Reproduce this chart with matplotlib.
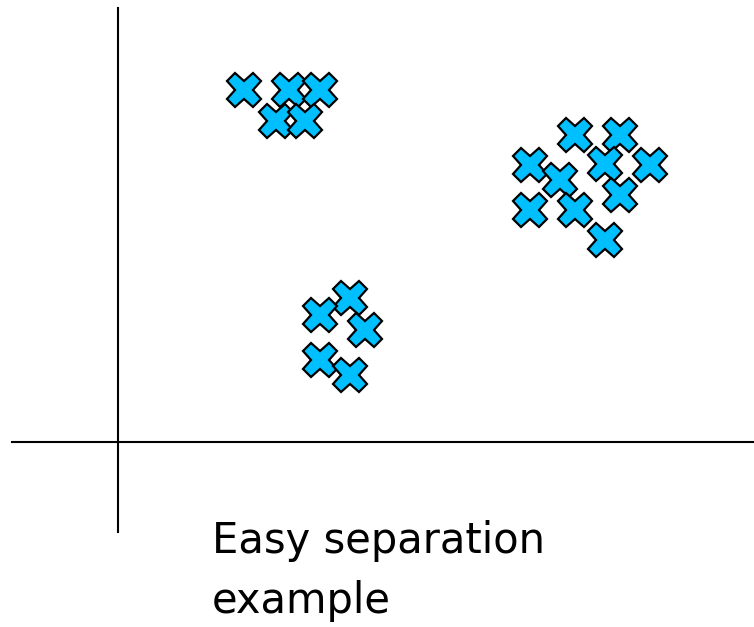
import matplotlib.pyplot as plt

# marker centres (pixel-like units, y grows downward)
cluster_a_x = [244, 289, 320, 276, 305]
cluster_a_y = [90, 90, 90, 121, 121]
cluster_b_x = [575, 620, 530, 605, 650, 560, 620, 530, 575, 605]
cluster_b_y = [135, 135, 165, 164, 165, 180, 195, 210, 210, 240]
cluster_c_x = [350, 320, 365, 320, 350]
cluster_c_y = [298, 315, 330, 360, 375]

fig = plt.figure(figsize=(7.54, 6.27), dpi=100)
ax = fig.add_axes([0, 0, 1, 1])
ax.set_xlim(0, 754)
ax.set_ylim(627, 0)
ax.axis("off")

# hand-drawn style axes
ax.plot([118, 118], [8, 532], color="black", lw=1.5)
ax.plot([12, 754], [442, 442], color="black", lw=1.5)

for xs, ys in [(cluster_a_x, cluster_a_y), (cluster_b_x, cluster_b_y), (cluster_c_x, cluster_c_y)]:
    for x, y in zip(xs, ys):
        ax.plot(x, y, marker="X", markersize=25, color="#00BFFF",
                markeredgecolor="black", markeredgewidth=1.6, linestyle="none")

ax.text(212, 520, "Easy separation\nexample", fontsize=30, va="top", ha="left",
        linespacing=1.55, family="DejaVu Sans")

fig.savefig("out.png", dpi=100)
